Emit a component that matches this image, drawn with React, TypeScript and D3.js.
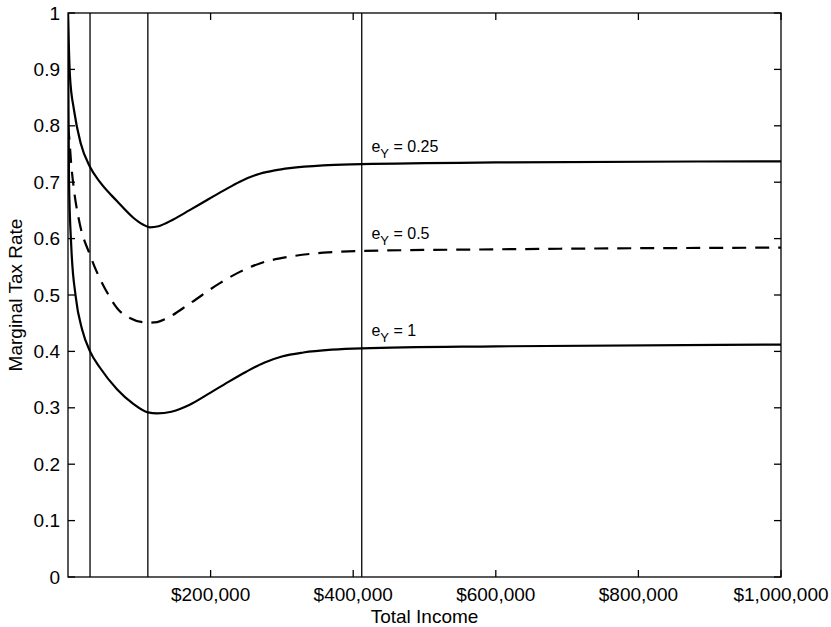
import React from "react";
import * as d3 from "d3";

// ---- data ----
const incomeE025 = [0, 1000, 2800, 8400, 17800, 30900, 44900, 68300, 91600, 105000, 115000, 127000, 147700, 170000, 194500, 218000, 241000, 269000, 290000, 311000, 358000, 412000, 600000, 1000000];
const rateE025 = [1.0, 0.95, 0.887, 0.828, 0.769, 0.727, 0.700, 0.667, 0.637, 0.625, 0.620, 0.622, 0.634, 0.650, 0.668, 0.685, 0.701, 0.715, 0.721, 0.725, 0.730, 0.732, 0.735, 0.737];

const incomeE05 = [0, 2000, 4000, 8400, 15400, 31800, 52900, 75700, 112000, 125000, 138400, 171000, 213000, 241000, 269000, 311000, 358000, 412000, 600000, 1000000];
const rateE05 = [0.80, 0.775, 0.74, 0.686, 0.633, 0.568, 0.509, 0.468, 0.451, 0.452, 0.4586, 0.485, 0.521, 0.541, 0.556, 0.568, 0.575, 0.578, 0.581, 0.584];

const incomeE1 = [0, 600, 1400, 4600, 10800, 20000, 30900, 44900, 68700, 91600, 112000, 125000, 145000, 170000, 200000, 225000, 250000, 275000, 300000, 330000, 370000, 412000, 600000, 1000000];
const rateE1 = [1.0, 0.85, 0.704, 0.586, 0.497, 0.438, 0.400, 0.371, 0.333, 0.307, 0.292, 0.290, 0.293, 0.305, 0.327, 0.346, 0.364, 0.380, 0.391, 0.398, 0.403, 0.4055, 0.409, 0.412];

const seriesNames = ["0.25", "0.5", "1"];
const seriesDashed = [false, true, false];
const labelIncome = 420000;

const verticalMarks = [30900, 112000, 412000];

const xTicks = [200000, 400000, 600000, 800000, 1000000];
const xTickLabels = ["$200,000", "$400,000", "$600,000", "$800,000", "$1,000,000"];
const yTicks = [0, 0.1, 0.2, 0.3, 0.4, 0.5, 0.6, 0.7, 0.8, 0.9, 1];
const yTickLabels = ["0", "0.1", "0.2", "0.3", "0.4", "0.5", "0.6", "0.7", "0.8", "0.9", "1"];

const xTitle = "Total Income";
const yTitle = "Marginal Tax Rate";

// ---- layout ----
const W = 831;
const H = 627;
const left = 68;
const right = 781;
const top = 13;
const bottom = 577;
const FONT = "'Liberation Sans', Arial, Helvetica, sans-serif";

export default function App() {
  const x = d3.scaleLinear().domain([0, 1000000]).range([left, right]);
  const y = d3.scaleLinear().domain([0, 1]).range([bottom, top]);

  const series = [
    { inc: incomeE025, rate: rateE025 },
    { inc: incomeE05, rate: rateE05 },
    { inc: incomeE1, rate: rateE1 },
  ];

  const line = d3
    .line<[number, number]>()
    .x((d) => x(d[0]))
    .y((d) => y(d[1]))
    .curve(d3.curveMonotoneX);

  const tickLen = 7;

  return (
    <svg
      width={W}
      height={H}
      style={{ position: "absolute", left: 0, top: 0, background: "#fff" }}
      fontFamily={FONT}
    >
      <rect x={0} y={0} width={W} height={H} fill="#fff" />
      <defs>
        <clipPath id="plotclip">
          <rect x={left} y={top} width={right - left} height={bottom - top} />
        </clipPath>
      </defs>

      {/* vertical marker lines */}
      {verticalMarks.map((v, i) => (
        <line key={"vm" + i} x1={x(v)} x2={x(v)} y1={y(0)} y2={y(1)} stroke="#000" strokeWidth={1.3} />
      ))}

      {/* curves */}
      <g clipPath="url(#plotclip)">
        {series.map((s, i) => (
          <path
            key={"s" + i}
            d={line(s.inc.map((v, j) => [v, s.rate[j]] as [number, number])) || ""}
            fill="none"
            stroke="#000"
            strokeWidth={2.2}
            strokeDasharray={seriesDashed[i] ? "14,9" : undefined}
          />
        ))}
      </g>

      {/* curve labels */}
      {series.map((s, i) => {
        const r = d3.scaleLinear().domain(s.inc).range(s.rate)(labelIncome);
        const lx = x(labelIncome) + 4;
        const ly = y(r) - 12;
        return (
          <text key={"lab" + i} x={lx} y={ly} fontSize={16} fill="#000">
            e
            <tspan fontSize={13} dy={6}>Y</tspan>
            <tspan dy={-6}>{" = " + seriesNames[i]}</tspan>
          </text>
        );
      })}

      {/* frame */}
      <rect x={left} y={top} width={right - left} height={bottom - top} fill="none" stroke="#000" strokeWidth={1.3} />

      {/* y ticks */}
      {yTicks.map((t, i) => (
        <g key={"yt" + i}>
          <line x1={left} x2={left + tickLen} y1={y(t)} y2={y(t)} stroke="#000" strokeWidth={1.3} />
          <line x1={right} x2={right - tickLen} y1={y(t)} y2={y(t)} stroke="#000" strokeWidth={1.3} />
          <text x={left - 8} y={y(t)} dy="0.35em" textAnchor="end" fontSize={19} fill="#000">
            {yTickLabels[i]}
          </text>
        </g>
      ))}

      {/* x ticks */}
      {xTicks.map((t, i) => (
        <g key={"xt" + i}>
          <line x1={x(t)} x2={x(t)} y1={bottom} y2={bottom - tickLen} stroke="#000" strokeWidth={1.3} />
          <line x1={x(t)} x2={x(t)} y1={top} y2={top + tickLen} stroke="#000" strokeWidth={1.3} />
          <text x={x(t)} y={bottom + 24} textAnchor="middle" fontSize={19} fill="#000">
            {xTickLabels[i]}
          </text>
        </g>
      ))}

      {/* axis titles */}
      <text x={(left + right) / 2} y={623} textAnchor="middle" fontSize={19} fill="#000">
        {xTitle}
      </text>
      <text
        transform={`translate(22, ${(top + bottom) / 2}) rotate(-90)`}
        textAnchor="middle"
        fontSize={19}
        fill="#000"
      >
        {yTitle}
      </text>
    </svg>
  );
}
